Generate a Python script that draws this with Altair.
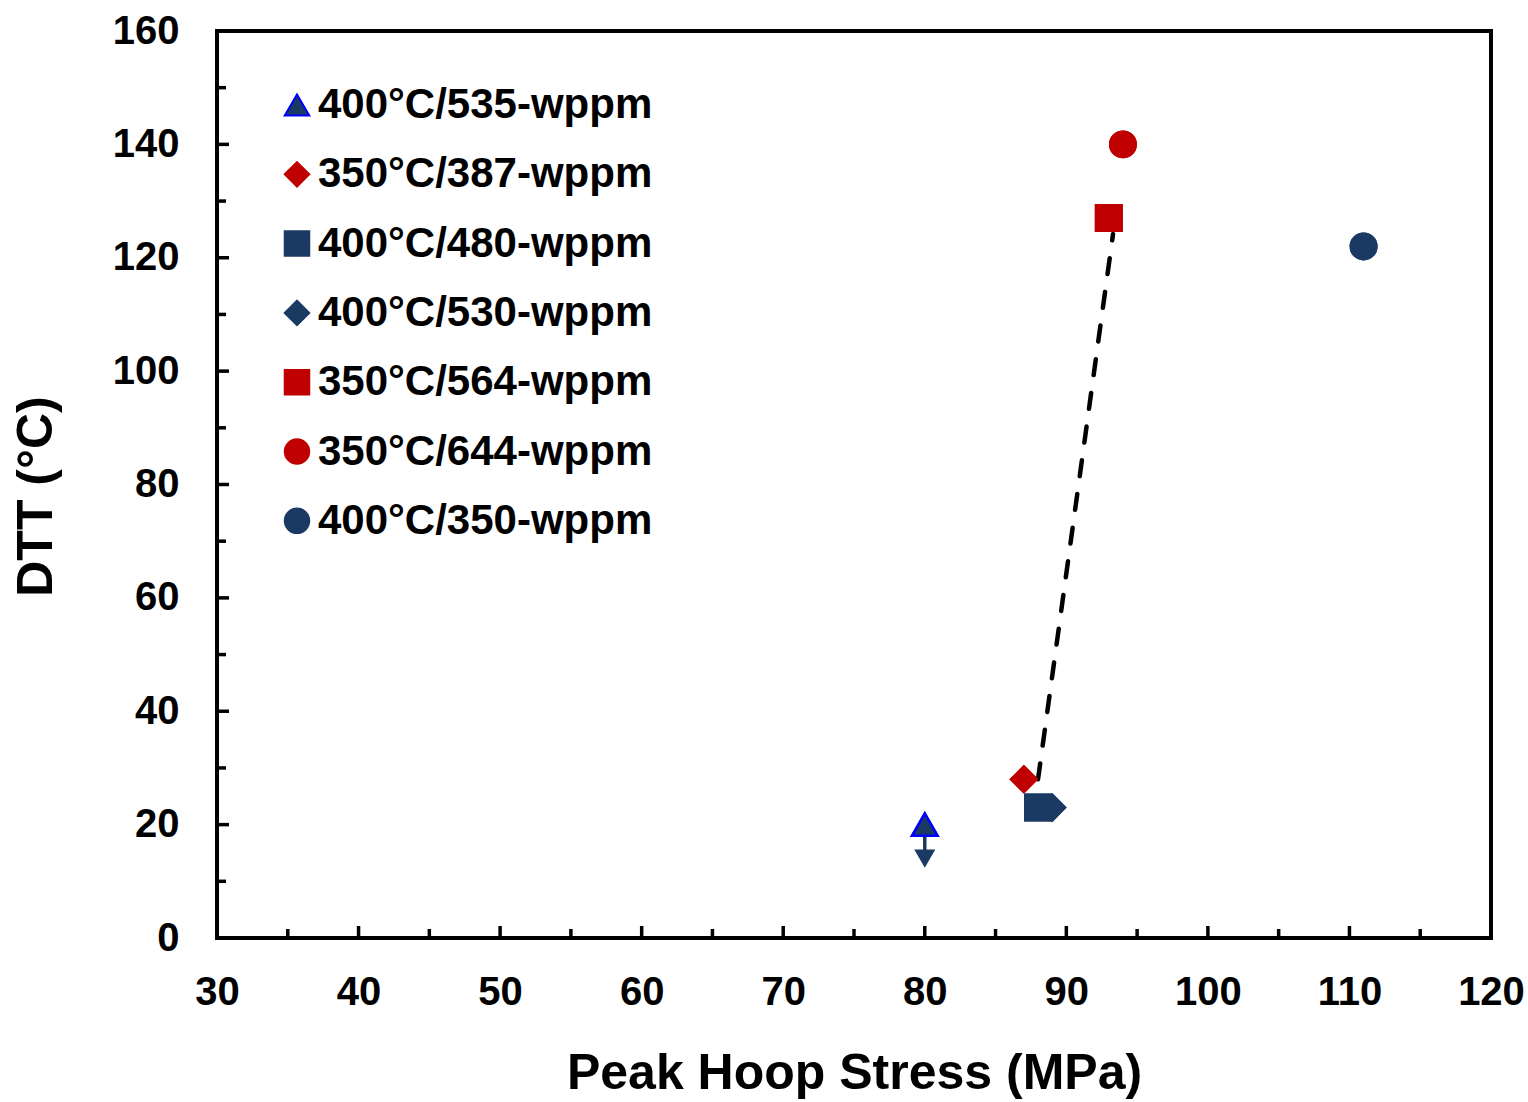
import altair as alt
import pandas as pd

# ---- data ----
series = ["400°C/535-wppm", "350°C/387-wppm", "400°C/480-wppm", "400°C/530-wppm",
          "350°C/564-wppm", "350°C/644-wppm", "400°C/350-wppm"]
stress = [80, 87, 88, 89, 93, 94, 111]
dtt = [20, 28, 23, 23, 127, 140, 122]
shapes = ["triangle-up", "diamond", "square", "diamond", "square", "circle", "circle"]
NAVY = "#1B3A63"
RED = "#C00000"
fill_colors = [NAVY, RED, NAVY, NAVY, RED, RED, NAVY]
stroke_colors = ["#0000FF", RED, NAVY, NAVY, RED, RED, NAVY]

trend_x = [88.0, 93.3]
trend_y = [28.0, 124.2]

arrow_x = [80]
arrow_top = [19.0]
arrow_bottom = [15.5]
arrow_head = [14.0]

x_ticks = [30, 40, 50, 60, 70, 80, 90, 100, 110, 120]
y_ticks = [0, 20, 40, 60, 80, 100, 120, 140, 160]
x_major = [40, 50, 60, 70, 80, 90, 100, 110]
x_minor = [35, 45, 55, 65, 75, 85, 95, 105, 115]
y_major = [20, 40, 60, 80, 100, 120, 140]
y_minor = [10, 30, 50, 70, 90, 110, 130, 150]

W, H = 1274, 907
FONT = "Liberation Sans"

xscale = alt.Scale(domain=[30, 120], nice=False, zero=False)
yscale = alt.Scale(domain=[0, 160], nice=False, zero=False)
xaxis = alt.Axis(values=x_ticks, title="Peak Hoop Stress (MPa)", grid=False,
                 domain=False, ticks=False, labelPadding=34, labelFlush=False,
                 labelOverlap=False, titlePadding=36)
yaxis = alt.Axis(values=y_ticks, title="DTT (°C)", grid=False,
                 domain=False, ticks=False, labelPadding=38, labelFlush=False,
                 labelOverlap=False, titlePadding=51, titleY=465)

pts = pd.DataFrame({"series": series, "x": stress, "y": dtt})
legend = alt.Legend(orient="none", legendX=59, legendY=53, title=None,
                    labelFont=FONT, labelFontWeight="bold", labelFontSize=42,
                    labelColor="black", labelLimit=0, symbolSize=600, symbolStrokeWidth=2,
                    rowPadding=27.3, labelOffset=0, padding=0, symbolOpacity=1)

points = alt.Chart(pts).mark_point(filled=True, size=650, strokeWidth=2.5, opacity=1).encode(
    x=alt.X("x:Q", scale=xscale, axis=xaxis),
    y=alt.Y("y:Q", scale=yscale, axis=yaxis),
    fill=alt.Fill("series:N", scale=alt.Scale(domain=series, range=fill_colors), legend=legend),
    stroke=alt.Stroke("series:N", scale=alt.Scale(domain=series, range=stroke_colors), legend=legend),
    shape=alt.Shape("series:N", scale=alt.Scale(domain=series, range=shapes), legend=legend),
)

trend = alt.Chart(pd.DataFrame({"x": trend_x, "y": trend_y})).mark_line(
    color="black", strokeWidth=4.5, strokeDash=[16, 18], strokeCap="round").encode(
    x=alt.X("x:Q", scale=xscale, axis=xaxis),
    y=alt.Y("y:Q", scale=yscale, axis=yaxis),
)

arr = pd.DataFrame({"x": arrow_x, "y": arrow_top, "y2": arrow_bottom, "h": arrow_head})
shaft = alt.Chart(arr).mark_rule(color=NAVY, strokeWidth=3.5).encode(
    x=alt.X("x:Q", scale=xscale, axis=xaxis),
    y=alt.Y("y:Q", scale=yscale, axis=yaxis),
    y2="y2:Q",
)
head = alt.Chart(arr).mark_point(filled=True, shape="triangle-down", size=441,
                                 color=NAVY, opacity=1).encode(
    x=alt.X("x:Q", scale=xscale, axis=xaxis),
    y=alt.Y("h:Q", scale=yscale, axis=yaxis),
)

def xtick_layer(vals, length):
    return alt.Chart(pd.DataFrame({"x": vals})).mark_rule(color="black", strokeWidth=3.5).encode(
        x=alt.X("x:Q", scale=xscale, axis=xaxis),
        y=alt.value(H), y2=alt.value(H - length),
    )

def ytick_layer(vals, length):
    return alt.Chart(pd.DataFrame({"y": vals})).mark_rule(color="black", strokeWidth=3.5).encode(
        y=alt.Y("y:Q", scale=yscale, axis=yaxis),
        x=alt.value(0), x2=alt.value(length),
    )

chart = alt.layer(
    points,
    xtick_layer(x_major, 12), xtick_layer(x_minor, 9),
    ytick_layer(y_major, 12), ytick_layer(y_minor, 9),
    trend, shaft, head,
    points,
).properties(
    width=W, height=H,
    autosize=alt.AutoSizeParams(type="none"),
    padding={"left": 217, "top": 31, "right": 37, "bottom": 164},
    background="white",
).configure_view(
    stroke="black", strokeWidth=4
).configure_axis(
    labelFont=FONT, labelFontWeight="bold", labelFontSize=40, labelColor="black",
    titleFont=FONT, titleFontWeight="bold", titleFontSize=50, titleColor="black",
)

chart.save("out.html", embed_options={"renderer": "svg", "actions": False})
